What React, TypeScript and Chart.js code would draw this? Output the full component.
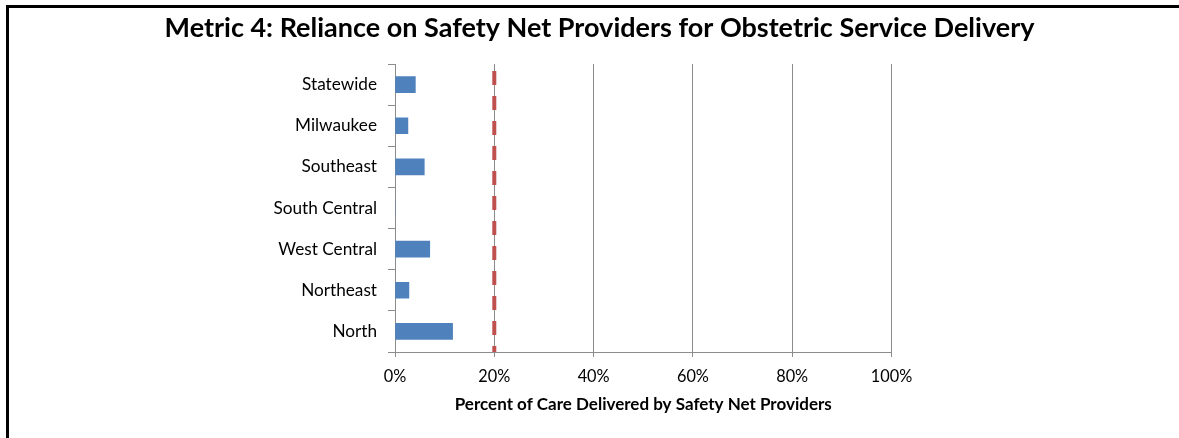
import React, { useEffect, useRef } from "react";
import { Chart, registerables } from "chart.js";

Chart.register(...registerables);

const TITLE = "Metric 4: Reliance on Safety Net Providers for Obstetric Service Delivery";
const X_TITLE = "Percent of Care Delivered by Safety Net Providers";
const categories = ["Statewide", "Milwaukee", "Southeast", "South Central", "West Central", "Northeast", "North"];
const values = [4.1, 2.6, 5.9, 0, 7.0, 2.8, 11.6];
const benchmark = 20;
const xMin = 0;
const xMax = 100;
const xStep = 20;

const FONT = "Lato";

const benchmarkPlugin = {
  id: "benchmarkLine",
  afterDatasetsDraw(chart: any) {
    const { ctx, chartArea, scales } = chart;
    const x = scales.x.getPixelForValue(benchmark);
    ctx.save();
    ctx.strokeStyle = "#C0504D";
    ctx.lineWidth = 4;
    ctx.setLineDash([14, 11]);
    ctx.lineDashOffset = 18;
    ctx.beginPath();
    ctx.moveTo(x, chartArea.top);
    ctx.lineTo(x, chartArea.bottom);
    ctx.stroke();
    ctx.restore();
  },
};

const titlePlugin = {
  id: "centeredTitle",
  afterDraw(chart: any) {
    const { ctx, width } = chart;
    ctx.save();
    ctx.fillStyle = "#000";
    ctx.font = `bold 27px ${FONT}`;
    ctx.textAlign = "center";
    ctx.textBaseline = "alphabetic";
    ctx.fillText(TITLE, width / 2 + 10, 37);
    ctx.restore();
  },
};

export default function App() {
  const ref = useRef<HTMLCanvasElement>(null);

  useEffect(() => {
    if (!ref.current) return;
    const chart = new Chart(ref.current, {
      type: "bar",
      data: {
        labels: categories,
        datasets: [
          {
            data: values,
            backgroundColor: "#4F81BD",
            borderWidth: 0,
            barThickness: 16,
          },
        ],
      },
      options: {
        indexAxis: "y",
        animation: false,
        responsive: false,
        maintainAspectRatio: false,
        layout: { padding: { left: 0, right: 287.5, top: 64, bottom: 0 } },
        plugins: {
          legend: { display: false },
          tooltip: { enabled: false },
          title: { display: false },
        },
        scales: {
          x: {
            type: "linear",
            min: xMin,
            max: xMax,
            ticks: {
              stepSize: xStep,
              color: "#000",
              font: { family: FONT, size: 16.3 },
              padding: 10,
              callback: (v: any) => v + "%",
            },
            grid: { color: "#8C8C8C", lineWidth: 1, tickLength: 5, drawTicks: true },
            border: { color: "#8C8C8C", width: 1 },
            title: {
              display: true,
              text: X_TITLE,
              color: "#000",
              font: { family: FONT, size: 17, weight: "bold", lineHeight: 1.2 },
              padding: { top: 0, bottom: 23 },
            },
            afterFit(scale: any) {
              scale.height = 86;
            },
          },
          y: {
            type: "category",
            ticks: {
              color: "#000",
              font: { family: FONT, size: 17.2 },
              padding: 11,
            },
            grid: { display: true, drawOnChartArea: false, offset: true, tickLength: 7, color: "#8C8C8C" },
            border: { color: "#8C8C8C", width: 1 },
            afterFit(scale: any) {
              scale.width = 395;
            },
          },
        },
      },
      plugins: [benchmarkPlugin, titlePlugin],
    });
    return () => chart.destroy();
  }, []);

  return (
    <div style={{ position: "fixed", left: 0, top: 0, width: 1179, height: 438, background: "#fff", overflow: "hidden" }}>
      <canvas ref={ref} width={1179} height={438} style={{ position: "absolute", left: 0, top: 0 }} />
      <div
        style={{
          position: "absolute",
          left: 6,
          top: 5,
          width: 1200,
          height: 460,
          borderLeft: "3px solid #000",
          borderTop: "3px solid #000",
          boxSizing: "border-box",
          pointerEvents: "none",
        }}
      />
    </div>
  );
}
